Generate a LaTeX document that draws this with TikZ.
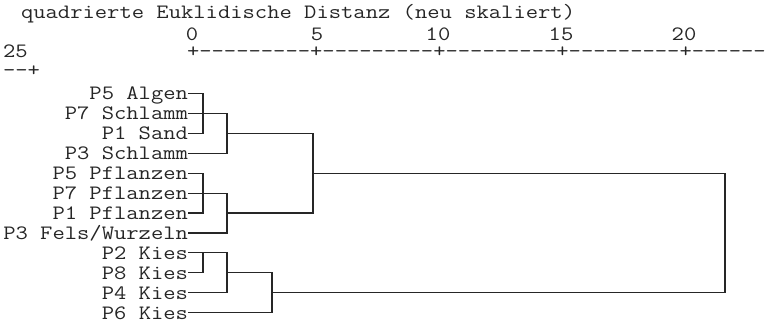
\documentclass[tikz,border=0pt]{standalone}
\usepackage{fontspec}
\setmonofont[FakeStretch=1.172]{Latin Modern Mono}
\begin{document}
\begin{tikzpicture}[x=1pt,y=-1pt,
  every node/.style={inner sep=0pt,outer sep=0pt,font=\ttfamily\fontsize{20.4}{24}\selectfont,text=black!85},
  leaf/.style={anchor=east,text height=13pt,text depth=0pt},
  conn/.style={line width=1.1pt,black!85,line join=miter}]
\useasboundingbox (0,0) rectangle (773,324);
% header
\node[anchor=base west] (title) at (21,18.3) {quadrierte Euklidische Distanz (neu skaliert)};
\node[anchor=base,text depth=0pt] (t0) at (192,40.5) {0};
\node[anchor=base,text depth=0pt] (t5) at (317,40.5) {5};
\node[anchor=base,text depth=0pt] (t10) at (438,40.5) {10};
\node[anchor=base,text depth=0pt] (t15) at (561,40.5) {15};
\node[anchor=base,text depth=0pt] (t20) at (684,40.5) {20};
\node[anchor=base west] (t25) at (3,57) {25};
\node[anchor=base west,text height=11pt,text depth=0pt] (axis) at (187,57) {+---------+---------+---------+---------+------};
\node[anchor=base west] (wrap) at (3,76) {--+};
% leaves
\foreach \i/\t in {0/{P5 Algen},1/{P7 Schlamm},2/{P1 Sand},3/{P3 Schlamm},4/{P5 Pflanzen},5/{P7 Pflanzen},6/{P1 Pflanzen},7/{P3 Fels/Wurzeln},8/{P2 Kies},9/{P8 Kies},10/{P4 Kies},11/{P6 Kies}}
  \node[leaf] (l\i) at (188,93.3+19.95*\i) {\t};
\coordinate (xa) at (203,0);
\coordinate (xb) at (227,0);
\coordinate (xk) at (272,0);
\coordinate (xc) at (313,0);
\coordinate (xd) at (725,0);
% cluster Algen/Schlamm/Sand
\draw[conn] (l0.east) -- (l0.east -| xa) -- (l2.east -| xa) -- (l2.east);
\draw[conn] (l1.east) -- (l1.east -| xb) -- (l3.east -| xb) -- (l3.east);
% cluster Pflanzen
\draw[conn] (l4.east) -- (l4.east -| xa) -- (l6.east -| xa) -- (l6.east);
\draw[conn] (l5.east) -- (l5.east -| xb) -- (l7.east -| xb) -- (l7.east);
% join the two
\draw[conn] (l2.east -| xb) -- (l2.east -| xc) -- (l6.east -| xc) -- (l6.east -| xb);
% cluster Kies
\draw[conn] (l8.east) -- (l8.east -| xa) -- (l9.east -| xa) -- (l9.east);
\draw[conn] (l8.east -| xa) -- (l8.east -| xb) -- (l10.east -| xb) -- (l10.east);
\draw[conn] (l9.east -| xb) -- (l9.east -| xk) -- (l11.east -| xk) -- (l11.east);
% top join
\draw[conn] (l4.east -| xc) -- (l4.east -| xd) -- (l10.east -| xd) -- (l10.east -| xk);
\end{tikzpicture}
\end{document}
